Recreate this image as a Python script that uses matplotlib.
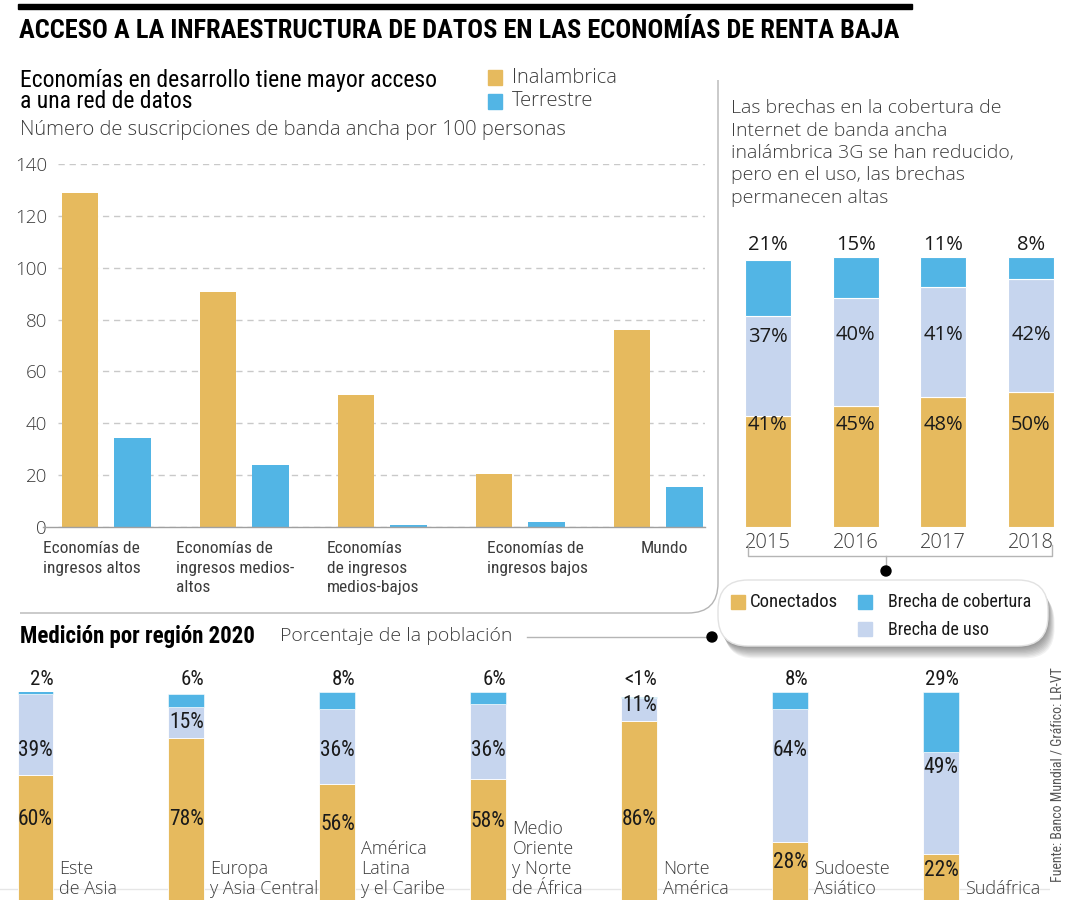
import matplotlib
matplotlib.use('Agg')
import matplotlib.pyplot as plt
import numpy as np
from matplotlib import font_manager
from matplotlib.patches import FancyBboxPatch, Rectangle, PathPatch, Circle
from matplotlib.path import Path

# colores
GOLD = '#E6BA5E'
BLUE = '#52B5E5'
PALE = '#C6D5EE'
DARK = '#1a1a1a'
GREY = '#3c3c3c'
LINE = '#b5b5b5'

# datos: suscripciones por 100 personas
grupos = ['Economías de\ningresos altos', 'Economías de\ningresos medios-\naltos',
          'Economías\nde ingresos\nmedios-bajos', 'Economías de\ningresos bajos', 'Mundo']
inalambrica = [129, 90.5, 51, 20.5, 76]
terrestre = [34.5, 24, 0.8, 1.8, 15.5]
y_ticks = [0, 20, 40, 60, 80, 100, 120, 140]

# datos: brechas 3G por año (%)
anios = ['2015', '2016', '2017', '2018']
conectados = [41, 45, 48, 50]
brecha_uso = [37, 40, 41, 42]
brecha_cobertura = [21, 15, 11, 8]

# datos: medición por región 2020 (%)
regiones = ['Este\nde Asia', 'Europa\ny Asia Central', 'América\nLatina\ny el Caribe',
            'Medio\nOriente\ny Norte\nde África', 'Norte\nAmérica', 'Sudoeste\nAsiático', 'Sudáfrica']
reg_conectados = [60, 78, 56, 58, 86, 28, 22]
reg_uso = [39, 15, 36, 36, 11, 64, 49]
reg_cobertura = [2, 6, 8, 6, 0.6, 8, 29]
reg_cobertura_txt = ['2%', '6%', '8%', '6%', '<1%', '8%', '29%']

# fuentes
names = {f.name for f in font_manager.fontManager.ttflist}


def pick(*cands):
    for c in cands:
        if c in names:
            return c
    return 'DejaVu Sans'


COND = pick('Liberation Sans Narrow', 'Roboto Condensed', 'DejaVu Sans')
SANS = pick('Open Sans', 'Noto Sans', 'Lato')
has_light = any(f.name == SANS and f.weight in (300, 'light') for f in font_manager.fontManager.ttflist)
LW = 'light' if has_light else 'normal'

W, H = 1080, 900
fig = plt.figure(figsize=(W / 100, H / 100), dpi=100)
fig.patch.set_facecolor('white')


def add_axes_px(x0, y0, x1, y1):
    return fig.add_axes([x0 / W, 1 - y1 / H, (x1 - x0) / W, (y1 - y0) / H])


# ---------------- gráfico principal
ax = add_axes_px(58, 164, 705, 527)
x = np.arange(len(grupos))
ax.bar(x - 0.19, inalambrica, 0.265, color=GOLD, zorder=2)
ax.bar(x + 0.19, terrestre, 0.265, color=BLUE, zorder=2)
ax.set_xlim(-0.35, 4.34)
ax.set_ylim(0, 140)
ax.set_yticks(y_ticks)
ax.set_yticklabels([str(t) for t in y_ticks], fontfamily=SANS, fontweight=LW)
ax.tick_params(axis='y', length=0, pad=8, labelsize=13.5, labelcolor=GREY)
ax.set_xticks([])
ax.yaxis.grid(True, ls=(0, (4.5, 3.5)), color='#c9c9c9', lw=1)
ax.set_axisbelow(True)
for s in ax.spines.values():
    s.set_visible(False)
ax.axhline(0, xmin=-0.023, xmax=1, color='#a0a0a0', lw=1, clip_on=False, zorder=3)

etiqueta_dx = [-0.457, -0.493, -0.40, -0.24, -0.13]
for i, g in enumerate(grupos):
    ax.text(i + etiqueta_dx[i], -5.5, g, ha='left', va='top', fontsize=12.5,
            family=COND, color=GREY, linespacing=1.38)

# ---------------- brechas por año
ay = add_axes_px(740, 257, 1060, 527)
xs = np.arange(len(anios))
tope_uso = np.add(conectados, brecha_uso)
ay.bar(xs, conectados, 0.525, color=GOLD, edgecolor='white', lw=0.8)
ay.bar(xs, brecha_uso, 0.525, bottom=conectados, color=PALE, edgecolor='white', lw=0.8)
ay.bar(xs, brecha_cobertura, 0.525, bottom=tope_uso, color=BLUE, edgecolor='white', lw=0.8)
ay.set_xlim(-0.319, 3.331)
ay.set_ylim(0, 100)
ay.axis('off')
for i in range(len(anios)):
    ay.text(i, 104.4, f'{brecha_cobertura[i]}%', ha='center', va='center', fontsize=14.5,
            family=SANS, color=DARK, clip_on=False)
    yu = max(min(71, tope_uso[i] - 7.5), conectados[i] + 7.5)
    ay.text(i, yu, f'{brecha_uso[i]}%', ha='center', va='center', fontsize=14.5,
            family=SANS, color=DARK)
    ay.text(i, 37.8, f'{conectados[i]}%', ha='center', va='center', fontsize=14.5,
            family=SANS, color=DARK)
    ay.text(i, -6.0, anios[i], ha='center', va='center', fontsize=14.5,
            family=SANS, fontweight=LW, color=GREY, clip_on=False)

# ---------------- medición por región
ab = add_axes_px(0, 692, 1050, 900)
xr = np.arange(len(regiones))
bw = 0.238
reg_tope = np.add(reg_conectados, reg_uso)
ab.axhline(5.3, color='#e6e6e6', lw=1, zorder=0)
ab.bar(xr, reg_conectados, bw, color=GOLD, edgecolor='white', lw=0.6, zorder=2)
ab.bar(xr, reg_uso, bw, bottom=reg_conectados, color=PALE, edgecolor='white', lw=0.6, zorder=2)
ab.bar(xr, reg_cobertura, bw, bottom=reg_tope, color=BLUE, edgecolor='white', lw=0.4, zorder=2)
ab.set_xlim(-0.235, 6.72)
ab.set_ylim(0, 100)
ab.axis('off')
for i in range(len(regiones)):
    c, u = reg_conectados[i], reg_uso[i]
    ab.text(i + bw / 2, 105.8, reg_cobertura_txt[i], ha='right', va='center', fontsize=15,
            family=COND, color=DARK, clip_on=False)
    yu = max(min(72, c + u - 7.5), c + 7.5)
    ab.text(i, yu, f'{u}%', ha='center', va='center', fontsize=15.5, family=COND, color=DARK)
    yc = min(38.5, 0.65 * c)
    ab.text(i, yc, f'{c}%', ha='center', va='center', fontsize=15.5, family=COND, color=DARK)
    ab.text(i + bw / 2 + 0.04, 1, regiones[i], ha='left', va='bottom', fontsize=13,
            family=SANS, fontweight=LW, color=GREY, linespacing=1.15)

# ---------------- capa de textos y adornos (coordenadas en píxeles)
ov = fig.add_axes([0, 0, 1, 1])
ov.set_xlim(0, W)
ov.set_ylim(H, 0)
ov.axis('off')
ov.patch.set_alpha(0)

ov.add_patch(Rectangle((18, 4), 894, 4.5, color='black'))
ov.text(19, 31, 'ACCESO A LA INFRAESTRUCTURA DE DATOS EN LAS ECONOMÍAS DE RENTA BAJA',
        ha='left', va='center', fontsize=19, fontweight='bold', family=COND, color='black')

ov.text(20, 80, 'Economías en desarrollo tiene mayor acceso', ha='left', va='center',
        fontsize=17, family=COND, color='black')
ov.text(20, 102, 'a una red de datos', ha='left', va='center',
        fontsize=17, family=COND, color='black')
ov.text(20, 130, 'Número de suscripciones de banda ancha por 100 personas', ha='left', va='center',
        fontsize=14.5, family=SANS, fontweight=LW, color=GREY)

ov.add_patch(Rectangle((488, 70), 14, 15, color=GOLD))
ov.text(512, 78, 'Inalambrica', ha='left', va='center', fontsize=14.5, family=SANS,
        fontweight=LW, color=GREY)
ov.add_patch(Rectangle((488, 94), 14, 15, color=BLUE))
ov.text(512, 101, 'Terrestre', ha='left', va='center', fontsize=14.5, family=SANS,
        fontweight=LW, color=GREY)

# marco redondeado del gráfico principal
marco = Path([(718, 80), (718, 583), (718, 613), (688, 613), (20, 613)],
             [Path.MOVETO, Path.LINETO, Path.CURVE3, Path.CURVE3, Path.LINETO])
ov.add_patch(PathPatch(marco, fill=False, edgecolor=LINE, lw=1))

texto_brechas = ['Las brechas en la cobertura de', 'Internet de banda ancha',
                 'inalámbrica 3G se han reducido,', 'pero en el uso, las brechas',
                 'permanecen altas']
for k, linea in enumerate(texto_brechas):
    ov.text(731, 108 + 22.5 * k, linea, ha='left', va='center', fontsize=14,
            family=SANS, fontweight=LW, color=GREY)

# corchete bajo los años
ov.plot([748, 748, 1052, 1052], [545, 556, 556, 545], color=LINE, lw=1)
ov.plot([886, 886], [556, 571], color=LINE, lw=1)
ov.add_patch(Circle((886, 571), 5, color='black', zorder=5))

# leyenda con sombra
for k in range(9):
    ov.add_patch(FancyBboxPatch((719 + k * 0.7, 582 + k * 1.3), 330, 66,
                                boxstyle='round,pad=0,rounding_size=30',
                                fc='black', ec='none', alpha=0.05, zorder=3))
ov.add_patch(FancyBboxPatch((718, 580), 330, 66, boxstyle='round,pad=0,rounding_size=30',
                            fc='white', ec='#e2e2e2', lw=1, zorder=4))
ov.add_patch(Rectangle((731, 595), 14, 14, color=GOLD, zorder=5))
ov.text(750, 602, 'Conectados', ha='left', va='center', fontsize=13.5, family=COND,
        color=DARK, zorder=6)
ov.add_patch(Rectangle((858, 595), 14, 14, color=BLUE, zorder=5))
ov.text(888, 602, 'Brecha de cobertura', ha='left', va='center', fontsize=13, family=COND,
        color=DARK, zorder=6)
ov.add_patch(Rectangle((858, 622), 14, 14, color=PALE, zorder=5))
ov.text(888, 630, 'Brecha de uso', ha='left', va='center', fontsize=13, family=COND,
        color=DARK, zorder=6)

# sección inferior
ov.text(20, 636, 'Medición por región 2020', ha='left', va='center', fontsize=16.5,
        fontweight='bold', family=COND, color='black')
ov.text(280, 636, 'Porcentaje de la población', ha='left', va='center', fontsize=14,
        family=SANS, fontweight=LW, color=GREY)
ov.plot([527, 712], [637, 637], color=LINE, lw=1)
ov.add_patch(Circle((712, 637), 5, color='black', zorder=5))

ov.text(1058, 775, 'Fuente: Banco Mundial / Gráfico: LR-VT', ha='center', va='center',
        rotation=90, fontsize=10, family=COND, color='#555555')

fig.savefig('out.png', dpi=100, facecolor='white')
